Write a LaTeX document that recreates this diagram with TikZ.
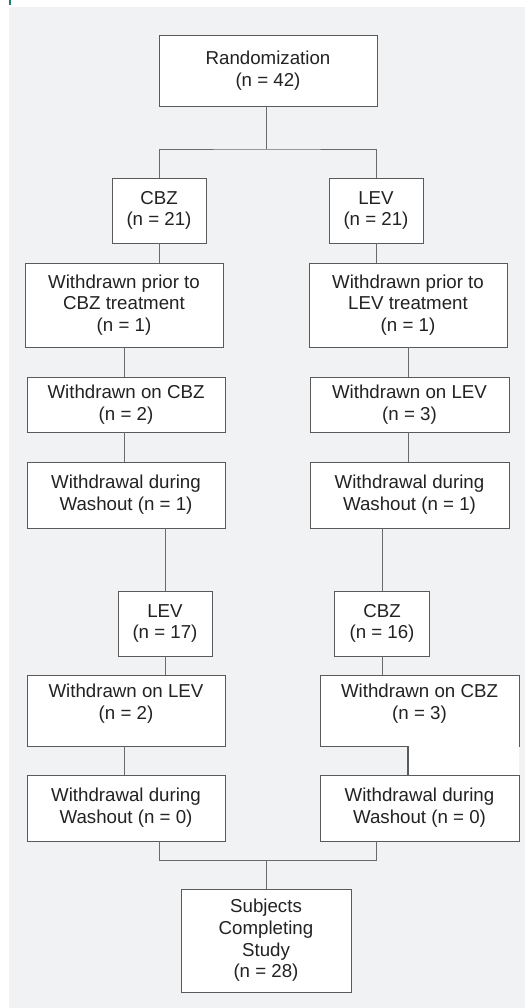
\documentclass[tikz,border=0pt]{standalone}
\usepackage{fontspec}
\setmainfont{Liberation Sans}
\usepackage{tikz}
\usetikzlibrary{positioning}
\definecolor{panelgrey}{HTML}{F1F2F4}
\definecolor{barteal}{HTML}{1A7F6E}
\definecolor{inkgrey}{HTML}{222222}
\definecolor{edgegrey}{HTML}{5A5A5A}
\definecolor{linkgrey}{HTML}{6A6A6A}

\begin{document}
\begin{tikzpicture}[x=1pt, y=-1pt, align=center]

\tikzstyle{stagebox} = [rectangle, minimum height=65pt, inner sep=0pt, text centered, draw=edgegrey, line width=0.9pt, fill=white, text=inkgrey, font=\fontsize{18.7}{21.7}\selectfont]
\tikzstyle{link} = [draw=linkgrey, line width=0.8pt]

\useasboundingbox (0,0) rectangle (525,1008);
\fill [panelgrey] (9,7) rectangle (525,1008);
\fill [barteal] (8.5,0) rectangle (10.5,5);

\node (rand) [stagebox, minimum width=218pt, minimum height=71pt] at (268,70.5) {Randomization\\(n = 42)};
\node (cbza) [stagebox, minimum width=94pt] at (159,210.5) {CBZ\\(n = 21)};
\node (leva) [stagebox, minimum width=94pt] at (376,210.5) {LEV\\(n = 21)};
\node (prcbz) [stagebox, minimum width=198pt, minimum height=84pt] at (124,305) {Withdrawn prior to\\CBZ treatment\\(n = 1)};
\node (prlev) [stagebox, minimum width=198pt, minimum height=84pt] at (408,305) {Withdrawn prior to\\LEV treatment\\(n = 1)};
\node (oncbz) [stagebox, minimum width=198pt, minimum height=55pt] at (126,404.5) {Withdrawn on CBZ\\(n = 2)};
\node (onlev) [stagebox, minimum width=199pt, minimum height=55pt] at (409.5,404.5) {Withdrawn on LEV\\(n = 3)};
\node (washa) [stagebox, minimum width=198pt, minimum height=66pt] at (126,495) {Withdrawal during\\Washout (n = 1)};
\node (washb) [stagebox, minimum width=199pt, minimum height=66pt] at (409.5,495) {Withdrawal during\\Washout (n = 1)};
\node (levb) [stagebox, minimum width=94pt] at (165,623.5) {LEV\\(n = 17)};
\node (cbzb) [stagebox, minimum width=95pt] at (382,623.5) {CBZ\\(n = 16)};
\node (onlevb) [stagebox, minimum width=198pt, minimum height=71pt, text depth=17pt] at (126,710.5) {Withdrawn on LEV\\(n = 2)};
\node (oncbzb) [stagebox, minimum width=199pt, minimum height=71pt, text depth=17pt] at (419.5,710.5) {Withdrawn on CBZ\\(n = 3)};
\node (washc) [stagebox, minimum width=198pt, minimum height=66pt] at (126,808) {Withdrawal during\\Washout (n = 0)};
\node (washd) [stagebox, minimum width=199pt, minimum height=66pt] at (419.5,808) {Withdrawal during\\Washout (n = 0)};
\node (done) [stagebox, minimum width=170pt, minimum height=103pt] at (266,940.5) {Subjects\\Completing\\Study\\(n = 28)};

\coordinate (split) at (266,149);
\coordinate (merge) at (266,860);

% randomization to the two arms
\draw [link] (rand.south -| split) -- (split);
\draw [link] (cbza.north) |- (split) -| (leva.north);

% first period
\draw [link] (cbza.south) -- (cbza.south |- prcbz.north);
\draw [link] (leva.south) -- (leva.south |- prlev.north);
\draw [link] (prcbz.south) -- (prcbz.south |- oncbz.north);
\draw [link] (prlev.south) -- (prlev.south |- onlev.north);
\draw [link] (oncbz.south -| prcbz.south) -- (prcbz.south |- washa.north);
\draw [link] (onlev.south -| prlev.south) -- (prlev.south |- washb.north);

% crossover
\draw [link] (levb.north |- washa.south) -- (levb.north);
\draw [link] (cbzb.north |- washb.south) -- (cbzb.north);
\draw [link] (levb.south) -- (levb.south |- onlevb.north);
\draw [link] (cbzb.south) -- (cbzb.south |- oncbzb.north);
\draw [link] (onlevb.south -| prcbz.south) -- (prcbz.south |- washc.north);
\fill [white] (prlev.south |- oncbzb.south) rectangle (oncbzb.east |- washd.north);
\draw [link, draw=edgegrey, line width=1.6pt] (prlev.south |- oncbzb.south) -- (prlev.south |- washd.north);

% completion
\draw [link] (washc.south -| cbza.south) |- (merge) -| (washd.south -| leva.south);
\draw [link] (merge) -- (done.north);
\end{tikzpicture}
\end{document}
